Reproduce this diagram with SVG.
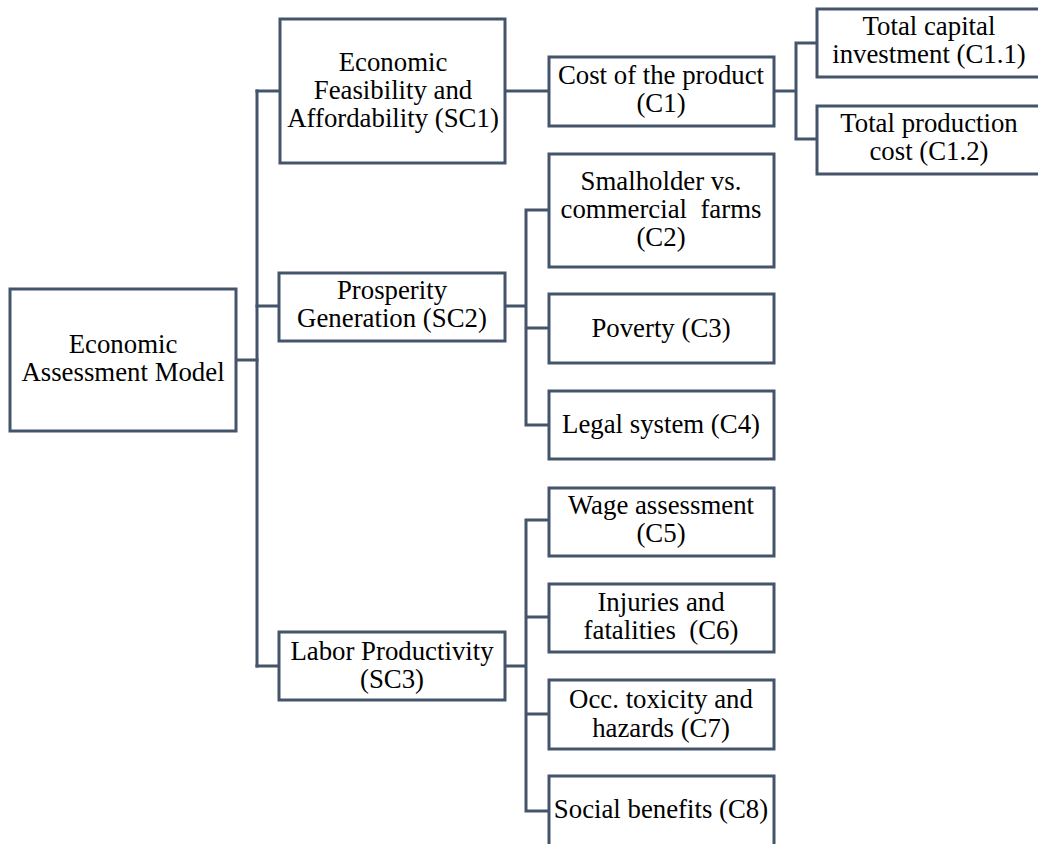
<svg xmlns="http://www.w3.org/2000/svg" width="1038" height="844" viewBox="0 0 1038 844">
  <style>
    .box { fill: #ffffff; stroke: #44546a; stroke-width: 3; }
    .wire { fill: none; stroke: #44546a; stroke-width: 3; stroke-linecap: square; }
    text { font-family: "Liberation Serif", "Times New Roman", serif; font-size: 26.8px; fill: #000000; text-anchor: middle; white-space: pre; }
  </style>
  <rect width="1038" height="844" fill="#ffffff"/>

  <!-- connectors -->
  <g id="connectors">
    <path class="wire" d="M236 360 H257"/>
    <path class="wire" d="M257 91 V666"/>
    <path class="wire" d="M257 91 H280 M257 306 H279 M257 666 H279"/>
    <path class="wire" d="M505 91 H549"/>
    <path class="wire" d="M774 91 H796 M796 43 V139 M796 43 H817 M796 139 H817"/>
    <path class="wire" d="M505 306 H526 M526 210 V425 M526 210 H549 M526 328 H549 M526 425 H549"/>
    <path class="wire" d="M505 666 H526 M526 520 V811 M526 520 H549 M526 617 H549 M526 714 H549 M526 811 H549"/>
  </g>

  <!-- root -->
  <g id="model">
    <rect class="box" x="10" y="289" width="226" height="142"/>
    <text x="123" y="353">Economic</text>
    <text x="123" y="381">Assessment Model</text>
  </g>

  <!-- sub-criteria -->
  <g id="sc1">
    <rect class="box" x="280" y="19" width="225" height="144"/>
    <text x="393" y="71">Economic</text>
    <text x="393" y="99">Feasibility and</text>
    <text x="393" y="127">Affordability (SC1)</text>
  </g>
  <g id="sc2">
    <rect class="box" x="279" y="273" width="226" height="68"/>
    <text x="392" y="299">Prosperity</text>
    <text x="392" y="327">Generation (SC2)</text>
  </g>
  <g id="sc3">
    <rect class="box" x="279" y="632" width="226" height="68"/>
    <text x="392" y="660">Labor Productivity</text>
    <text x="392" y="688">(SC3)</text>
  </g>

  <!-- criteria -->
  <g id="c1">
    <rect class="box" x="549" y="57" width="225" height="69"/>
    <text x="661" y="84">Cost of the product</text>
    <text x="661" y="112">(C1)</text>
  </g>
  <g id="c1-1">
    <rect class="box" x="817" y="9" width="225" height="68"/>
    <text x="929" y="35">Total capital</text>
    <text x="929" y="63">investment (C1.1)</text>
  </g>
  <g id="c1-2">
    <rect class="box" x="817" y="106" width="225" height="68"/>
    <text x="929" y="132">Total production</text>
    <text x="929" y="160">cost (C1.2)</text>
  </g>
  <g id="c2">
    <rect class="box" x="549" y="154" width="225" height="113"/>
    <text x="661" y="190">Smalholder vs.</text>
    <text x="661" y="218" xml:space="preserve">commercial  farms</text>
    <text x="661" y="246">(C2)</text>
  </g>
  <g id="c3">
    <rect class="box" x="549" y="294" width="225" height="69"/>
    <text x="661" y="337">Poverty (C3)</text>
  </g>
  <g id="c4">
    <rect class="box" x="549" y="391" width="225" height="68"/>
    <text x="661" y="433">Legal system (C4)</text>
  </g>
  <g id="c5">
    <rect class="box" x="549" y="488" width="225" height="68"/>
    <text x="661" y="514">Wage assessment</text>
    <text x="661" y="542">(C5)</text>
  </g>
  <g id="c6">
    <rect class="box" x="549" y="584" width="225" height="68"/>
    <text x="661" y="611">Injuries and</text>
    <text x="661" y="639" xml:space="preserve">fatalities  (C6)</text>
  </g>
  <g id="c7">
    <rect class="box" x="549" y="680" width="225" height="69"/>
    <text x="661" y="708">Occ. toxicity and</text>
    <text x="661" y="737">hazards (C7)</text>
  </g>
  <g id="c8">
    <rect class="box" x="549" y="776" width="225" height="72"/>
    <text x="661" y="818">Social benefits (C8)</text>
  </g>
</svg>
